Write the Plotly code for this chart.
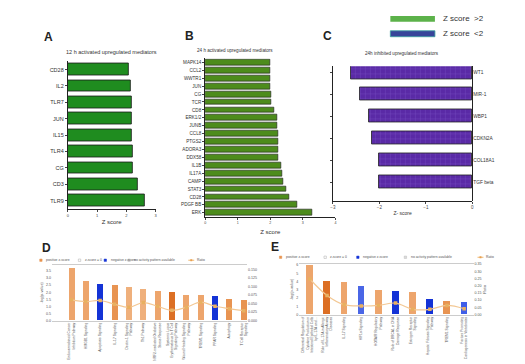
import plotly.graph_objects as go

FONT = "Liberation Sans, Arial, sans-serif"

# ---------------- data ----------------
a_labels = ["CD28", "IL2", "TLR7", "JUN", "IL15", "TLR4", "CG", "CD3", "TLR9"]
a_values = [2.09, 2.16, 2.19, 2.19, 2.19, 2.23, 2.23, 2.40, 2.64]

b_labels = ["MAPK14", "CCL2", "WWTR1", "JUN", "CG", "TCR", "CD8", "ERK1/2", "JUNB", "CCL8",
            "PTGS2", "ADORA3", "DDX58", "IL1B", "IL17A", "CAMP", "STAT3", "CD28", "PDGF BB", "ERK"]
b_values = [2.00, 2.00, 2.00, 2.00, 2.02, 2.03, 2.12, 2.22, 2.22, 2.23,
            2.24, 2.25, 2.25, 2.34, 2.36, 2.40, 2.49, 2.57, 2.84, 3.28]

c_labels = ["WT1", "MIR-1", "WBP1", "CDKN2A", "COL18A1", "TGF beta"]
c_values = [-2.62, -2.41, -2.23, -2.16, -2.01, -2.01]

d_labels = ["Endocannabinoid Cancer<br>Inhibition Pathway", "HMGB1 Signaling", "Apoptosis Signaling",
            "IL-17 Signaling", "Dectin-1 Signaling<br>Pathway", "Th1 Pathway",
            "NRF2-mediated Oxidative<br>Stress Response",
            "Systemic Lupus<br>Erythematosus In T Cell<br>Signaling Pathway",
            "Wound Healing Signaling<br>Pathway", "TREM1 Signaling", "PPAR Signaling",
            "Autophagy", "T Cell Receptor<br>Signaling"]
d_logp = [3.73, 2.80, 2.56, 2.47, 2.33, 2.24, 2.05, 2.00, 1.77, 1.77, 1.75, 1.54, 1.45]
d_ratio = [0.061, 0.056, 0.059, 0.048, 0.039, 0.053, 0.042, 0.030, 0.039, 0.054, 0.042, 0.035, 0.029]
d_colors = ["#eda56c", "#eda56c", "#1433d6", "#e89452", "#efb07c", "#efb07c", "#eda56c",
            "#dc6f24", "#eda56c", "#eda56c", "#1433d6", "#e89452", "#e89452"]

e_labels = ["Differential Regulation of<br>Cytokine Production in<br>Intestinal Epithelial Cells<br>by IL-17A and ...",
            "Role of IL-17A in Allergic<br>Inflammatory Airway<br>Diseases", "IL-17 Signaling",
            "HIF1α Signaling", "HOTAIR Regulatory<br>Pathway",
            "Role of BRCA1 in DNA<br>Damage Response", "Estrogen Receptor<br>Signaling",
            "Hepatic Fibrosis Signaling<br>Pathway", "TREM1 Signaling",
            "Factors Promoting<br>Cardiogenesis in Vertebrates"]
e_logp = [5.95, 4.10, 3.90, 3.40, 3.00, 2.80, 2.78, 1.87, 1.60, 1.50]
e_ratio = [0.247, 0.133, 0.069, 0.060, 0.064, 0.080, 0.037, 0.037, 0.064, 0.041]
e_colors = ["#eda56c", "#dc6f24", "#eda56c", "#4a66e6", "#eda56c", "#1433d6",
            "#eda56c", "#1433d6", "#e89452", "#3f5ee8"]

fig = go.Figure()

# ---------------- Panel A ----------------
fig.add_trace(go.Bar(x=a_values, y=a_labels, orientation="h", width=0.72,
                     marker=dict(color="#1f8c1f", line=dict(color="#1a1a1a", width=0.8)),
                     xaxis="x", yaxis="y", showlegend=False))
# ---------------- Panel B ----------------
fig.add_trace(go.Bar(x=b_values, y=b_labels, orientation="h", width=0.74,
                     marker=dict(color="#4d8c1c", line=dict(color="#1a1a1a", width=0.6)),
                     xaxis="x2", yaxis="y2", showlegend=False))
# ---------------- Panel C ----------------
c_pos = list(range(len(c_labels)))
fig.add_trace(go.Bar(x=c_values, y=c_pos, orientation="h", width=0.6,
                     marker=dict(color="#5a2aa6", line=dict(color="#222222", width=0.8),
                                 pattern=dict(shape="+", fgcolor="#9d7ae0", bgcolor="#5a2aa6",
                                              size=5, solidity=0.12)),
                     xaxis="x3", yaxis="y3", showlegend=False))
fig.add_trace(go.Scatter(x=[None], y=[None], xaxis="x3", yaxis="y4", showlegend=False))

# ---------------- Panel D ----------------
d_pos = list(range(len(d_labels)))
fig.add_trace(go.Bar(x=d_pos, y=d_logp, width=0.42, marker=dict(color=d_colors, line=dict(width=0)),
                     xaxis="x5", yaxis="y5", showlegend=False))
fig.add_trace(go.Scatter(x=d_pos, y=d_ratio, mode="lines+markers",
                         line=dict(color="#f3c894", width=1.2, shape="spline"),
                         marker=dict(symbol="square", size=3.5, color="#e8b060"),
                         xaxis="x5", yaxis="y6", showlegend=False))
# ---------------- Panel E ----------------
e_pos = list(range(len(e_labels)))
fig.add_trace(go.Bar(x=e_pos, y=e_logp, width=0.39, marker=dict(color=e_colors, line=dict(width=0)),
                     xaxis="x7", yaxis="y7", showlegend=False))
fig.add_trace(go.Scatter(x=e_pos, y=e_ratio, mode="lines+markers",
                         line=dict(color="#f3c894", width=1.2, shape="spline"),
                         marker=dict(symbol="square", size=3.5, color="#e8b060"),
                         xaxis="x7", yaxis="y8", showlegend=False))

tickf = dict(family=FONT, size=5.5, color="#333333")
tinyf = dict(family=FONT, size=3.6, color="#555555")
labf = dict(family=FONT, size=3.3, color="#555555")

def H(px):
    return 1 - px / 364

layout = dict(
    width=525, height=364, margin=dict(l=0, r=0, t=0, b=0),
    paper_bgcolor="white", plot_bgcolor="white", font=dict(family=FONT),
    bargap=0,
    # A
    xaxis=dict(domain=[57.3 / 525, 146 / 525], range=[0, 3], tickvals=[0, 1, 2, 3],
               ticks="outside", ticklen=2, tickwidth=0.8, showline=True, linecolor="#222", linewidth=0.9,
               showgrid=False, zeroline=False, tickfont=dict(family=FONT, size=4, color="#444"),
               anchor="y", title=dict(text="Z score", font=dict(family=FONT, size=6, color="#333"), standoff=3)),
    yaxis=dict(domain=[H(201), H(52)], autorange="reversed", ticks="outside", ticklen=2,
               showline=True, linecolor="#222", linewidth=0.9, tickfont=tickf, anchor="x",
               showgrid=False),
    # B
    xaxis2=dict(domain=[196 / 525, 327.5 / 525], range=[0, 4], tickvals=[0, 1, 2, 3, 4],
                ticks="outside", ticklen=2, showline=True, linecolor="#222", linewidth=0.9,
                showgrid=False, zeroline=False, tickfont=dict(family=FONT, size=3.6, color="#444"),
                anchor="y2", title=dict(text="Z score", font=dict(family=FONT, size=6, color="#333"), standoff=5)),
    yaxis2=dict(domain=[H(209), H(49)], autorange="reversed", ticks="outside", ticklen=2,
                showline=True, linecolor="#222", linewidth=0.9,
                tickfont=dict(family=FONT, size=4.6, color="#333"), anchor="x2", showgrid=False),
    # C
    xaxis3=dict(domain=[325 / 525, 465.7 / 525], range=[-3, 0], tickvals=[-3, -2, -1, 0],
                ticks="outside", ticklen=2, showline=True, linecolor="#222", linewidth=0.9,
                showgrid=False, zeroline=True, zerolinecolor="#222", zerolinewidth=0.9,
                tickfont=dict(family=FONT, size=4.5, color="#444"), anchor="y3",
                title=dict(text="Z- score", font=dict(family=FONT, size=5, color="#333"), standoff=2)),
    yaxis3=dict(domain=[H(193), H(57)], range=[5.86, -0.27], tickvals=c_pos, ticks="outside",
                ticklen=2, showticklabels=False, showline=True, linecolor="#222", linewidth=0.9,
                anchor="x3", showgrid=False, zeroline=False),
    yaxis4=dict(overlaying="y3", side="right", anchor="x3", range=[5.86, -0.27], tickvals=c_pos,
                ticktext=c_labels, ticks="", showline=False, showgrid=False, zeroline=False,
                tickfont=dict(family=FONT, size=4.8, color="#333")),
    # D
    xaxis5=dict(domain=[41.3 / 525, 238.3 / 525], range=[-1.36, 12.23], tickvals=d_pos,
                ticktext=d_labels, tickangle=-90, tickfont=labf, ticks="", showline=True,
                linecolor="#cccccc", linewidth=0.8, mirror=True, anchor="y5", showgrid=False,
                zeroline=False),
    yaxis5=dict(domain=[H(314), H(258)], range=[0, 3.92], tickvals=[0, 0.5, 1, 1.5, 2, 2.5, 3, 3.5],
                ticktext=["0.0", "0.5", "1.0", "1.5", "2.0", "2.5", "3.0", "3.5"],
                tickfont=tinyf, ticks="", showgrid=False, zeroline=False, anchor="x5",
                title=dict(text="-log(p-value)", font=dict(family=FONT, size=3.8, color="#555"), standoff=2)),
    yaxis6=dict(overlaying="y5", side="right", anchor="x5", range=[0, 0.163],
                tickvals=[0, 0.025, 0.05, 0.075, 0.1, 0.125, 0.15],
                ticktext=["0.000", "0.025", "0.050", "0.075", "0.100", "0.125", "0.150"],
                tickfont=tinyf, ticks="", showgrid=False, zeroline=False),
    # E
    xaxis7=dict(domain=[291 / 525, 467 / 525], range=[-0.62, 9.55], tickvals=e_pos,
                ticktext=e_labels, tickangle=-90, tickfont=labf, ticks="", showline=True,
                linecolor="#cccccc", linewidth=0.8, mirror=True, anchor="y7", showgrid=False,
                zeroline=False),
    yaxis7=dict(domain=[H(308), H(257)], range=[0, 6.12], tickvals=[0, 1, 2, 3, 4, 5, 6],
                tickfont=tinyf, ticks="", showgrid=False, zeroline=False, anchor="x7",
                title=dict(text="-log(p-value)", font=dict(family=FONT, size=3.8, color="#555"), standoff=2)),
    yaxis8=dict(overlaying="y7", side="right", anchor="x7", range=[0, 0.35],
                tickvals=[0, 0.05, 0.1, 0.15, 0.2, 0.25, 0.3, 0.35],
                ticktext=["0.00", "0.05", "0.10", "0.15", "0.20", "0.25", "0.30", "0.35"],
                tickfont=tinyf, ticks="", showgrid=False, zeroline=False,
                title=dict(text="Ratio", font=dict(family=FONT, size=3.8, color="#555"), standoff=2)),
)
fig.update_layout(**layout)

ann = []
def txt(x, y, t, size, bold=False, color="#222", xanchor="center"):
    ann.append(dict(x=x / 525, y=H(y), xref="paper", yref="paper", text=f"<b>{t}</b>" if bold else t,
                    showarrow=False, font=dict(family=FONT, size=size, color=color),
                    xanchor=xanchor, yanchor="middle"))

# panel letters
txt(38, 27, "A", 12, bold=True)
txt(180, 26, "B", 12, bold=True)
txt(320, 26, "C", 12, bold=True)
txt(36, 241, "D", 12, bold=True)
txt(267, 240, "E", 12, bold=True)
# titles
txt(101, 42, "12 h activated upregulated mediators", 5.5, color="#333")
txt(226, 41, "24 h activated upregulated mediators", 4.6, color="#333")
txt(395, 44, "24h inhibited upregulated mediators", 4.6, color="#333")
# top legend
txt(434, 9, "Z score  >2", 8, color="#333", xanchor="left")
txt(434, 24, "Z score  <2", 8, color="#333", xanchor="left")

shapes = [
    dict(type="rect", xref="paper", yref="paper", x0=383 / 525, x1=428 / 525, y0=H(12), y1=H(6),
         fillcolor="#5cb24a", line=dict(width=0)),
    dict(type="rect", xref="paper", yref="paper", x0=383 / 525, x1=428 / 525, y0=H(27), y1=H(21),
         fillcolor="#38449a", line=dict(color="#3aa0a0", width=0.8)),
]

# small legends for D and E
def mini_legend(y, xs):
    items = [("positive z-score", "#e8944f", None), ("z-score = 0", "white", "#aaaaaa"),
             ("negative z-score", "#1433d6", None), ("no activity pattern available", "#dddddd", "#bbbbbb"),
             ("Ratio", None, None)]
    for (label, fill, edge), xx in zip(items, xs):
        if fill is None:
            shapes.append(dict(type="line", xref="paper", yref="paper", x0=(xx - 2) / 525, x1=(xx + 4) / 525,
                               y0=H(y), y1=H(y), line=dict(color="#f0b870", width=1)))
            shapes.append(dict(type="rect", xref="paper", yref="paper", x0=(xx) / 525, x1=(xx + 2) / 525,
                               y0=H(y + 1), y1=H(y - 1), fillcolor="#e8a050", line=dict(width=0)))
        else:
            shapes.append(dict(type="rect", xref="paper", yref="paper", x0=xx / 525, x1=(xx + 2.4) / 525,
                               y0=H(y + 1.2), y1=H(y - 1.2), fillcolor=fill,
                               line=dict(color=edge or fill, width=0.5)))
        txt(xx + 4.5, y, label, 3.4, color="#555", xanchor="left")

mini_legend(253, [29, 68, 94, 118, 181])
mini_legend(250, [271, 316, 349, 397, 473])

fig.update_layout(annotations=ann, shapes=shapes)
fig.write_html("out.html")
